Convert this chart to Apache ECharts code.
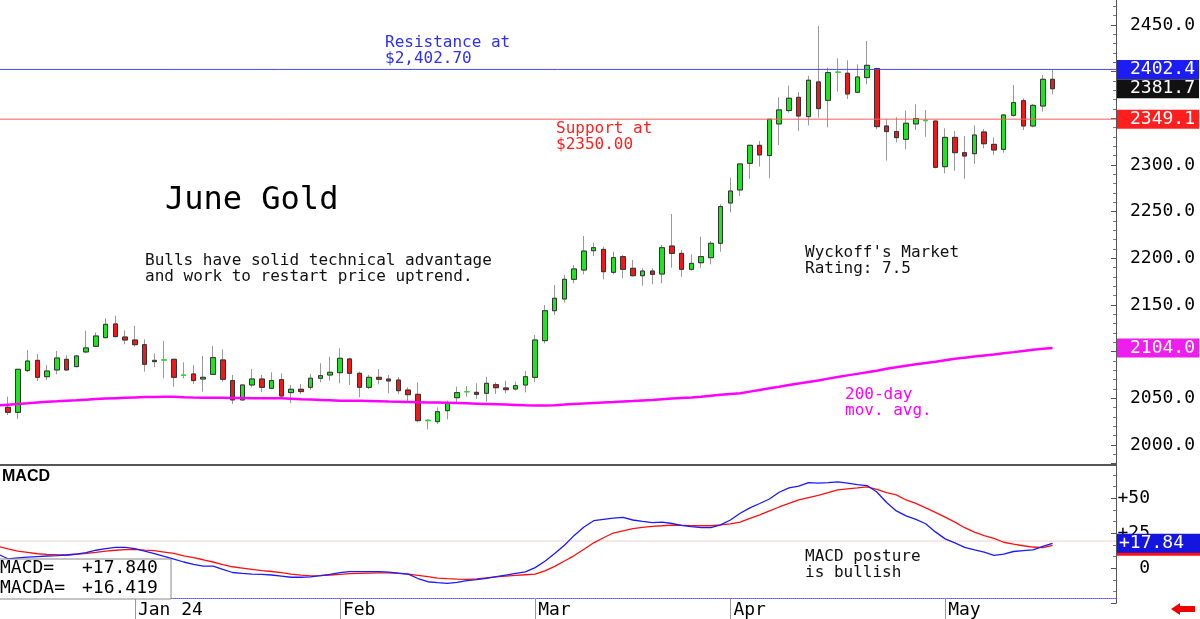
<!DOCTYPE html>
<html>
<head>
<meta charset="utf-8">
<title>June Gold</title>
<script src="https://cdn.jsdelivr.net/npm/echarts@6.0.0/dist/echarts.min.js"></script>
<style>
html, body { margin: 0; padding: 0; background: #fff; }
#chart { width: 1200px; height: 619px; }
</style>
</head>
<body>
<div id="chart"></div>
<script>
// trading days, first one is only the cut off left edge
var dates = ['2023-12-11',
  '2023-12-12','2023-12-13','2023-12-14','2023-12-15','2023-12-18','2023-12-19','2023-12-20','2023-12-21','2023-12-22','2023-12-26','2023-12-27','2023-12-28','2023-12-29',
  '2024-01-02','2024-01-03','2024-01-04','2024-01-05','2024-01-08','2024-01-09','2024-01-10','2024-01-11','2024-01-12','2024-01-16','2024-01-17','2024-01-18','2024-01-19','2024-01-22','2024-01-23','2024-01-24','2024-01-25','2024-01-26','2024-01-29','2024-01-30','2024-01-31',
  '2024-02-01','2024-02-02','2024-02-05','2024-02-06','2024-02-07','2024-02-08','2024-02-09','2024-02-12','2024-02-13','2024-02-14','2024-02-15','2024-02-16','2024-02-20','2024-02-21','2024-02-22','2024-02-23','2024-02-26','2024-02-27','2024-02-28','2024-02-29',
  '2024-03-01','2024-03-04','2024-03-05','2024-03-06','2024-03-07','2024-03-08','2024-03-11','2024-03-12','2024-03-13','2024-03-14','2024-03-15','2024-03-18','2024-03-19','2024-03-20','2024-03-21','2024-03-22','2024-03-25','2024-03-26','2024-03-27','2024-03-28',
  '2024-04-01','2024-04-02','2024-04-03','2024-04-04','2024-04-05','2024-04-08','2024-04-09','2024-04-10','2024-04-11','2024-04-12','2024-04-15','2024-04-16','2024-04-17','2024-04-18','2024-04-19','2024-04-22','2024-04-23','2024-04-24','2024-04-25','2024-04-26','2024-04-29','2024-04-30',
  '2024-05-01','2024-05-02','2024-05-03','2024-05-06','2024-05-07','2024-05-08','2024-05-09','2024-05-10','2024-05-13','2024-05-14','2024-05-15','2024-05-16'];
var padDays = ['p1','p2','p3','p4','p5','p6'];

var tickDates = ['2024-01-02','2024-02-01','2024-03-01','2024-04-01','2024-05-01'];
var tickLabels = ['Jan 24','Feb','Mar','Apr','May'];

// OHLC from 2023-12-12 on
var opens = [2040.4,2035.0,2079.7,2090.7,2073.2,2080.4,2091.8,2084.0,2099.7,2105.7,2115.0,2129.7,2115.7,
  2112.5,2107.5,2089.3,2091.1,2091.8,2075.0,2076.1,2070.7,2075.7,2091.1,2069.0,2048.3,2064.3,2070.7,2060.7,2070.0,2056.1,2059.7,2061.8,2071.5,2075.0,
  2077.5,2092.2,2076.8,2061.8,2072.5,2070.7,2069.6,2058.9,2054.3,2026.5,2025.0,2036.8,2050.7,2057.1,2056.4,2055.4,2064.6,2061.1,2060.0,2064.3,
  2072.5,2111.8,2143.9,2156.4,2177.5,2187.5,2208.2,2209.6,2185.0,2201.8,2189.3,2181.4,2186.4,2183.2,2213.2,2205.3,2188.2,2195.3,2200.7,2216.1,
  2259.3,2273.3,2301.8,2321.1,2310.1,2344.0,2358.3,2372.5,2351.8,2389.0,2369.3,2399.4,2398.3,2377.9,2393.6,2403.3,2341.8,2335.8,2327.5,2344.0,2348.0,2347.1,
  2298.2,2329.6,2313.2,2312.1,2335.4,2322.1,2316.8,2353.2,2368.9,2341.8,2363.2,2391.8];
var closes = [2035.0,2081.1,2090.0,2072.5,2079.3,2093.2,2080.4,2095.4,2104.0,2116.8,2129.3,2116.1,2112.5,
  2107.5,2086.5,2090.7,2091.1,2072.5,2074.5,2069.0,2072.5,2093.6,2070.4,2048.3,2064.3,2070.7,2061.8,2069.0,2052.5,2059.7,2057.2,2071.5,2074.3,2077.9,
  2092.9,2076.8,2061.8,2072.5,2070.4,2068.6,2058.2,2053.9,2026.1,2026.0,2035.7,2045.4,2056.1,2057.1,2054.3,2066.1,2061.4,2059.3,2063.6,2073.2,
  2112.5,2143.9,2157.2,2177.5,2188.6,2207.8,2211.4,2185.7,2200.7,2188.2,2181.4,2186.4,2182.8,2211.4,2205.3,2188.2,2194.6,2201.8,2216.1,2255.4,
  2272.1,2301.1,2321.1,2310.8,2349.0,2359.0,2371.5,2352.5,2390.8,2360.4,2399.0,2399.4,2376.1,2394.3,2406.8,2341.1,2335.8,2329.3,2344.7,2349.7,2347.5,2297.5,
  2329.6,2313.2,2309.6,2332.1,2322.8,2316.1,2353.6,2366.8,2341.8,2363.9,2391.8,2381.7];
var lows = [2032.1,2027.9,2077.9,2068.6,2069.7,2075.7,2079.7,2083.3,2098.2,2105.4,2114.3,2115.4,2107.9,
  2105.4,2078.6,2083.3,2071.5,2062.5,2071.5,2065.4,2057.2,2075.0,2067.9,2044.0,2047.5,2061.8,2056.5,2060.0,2051.1,2044.7,2054.7,2059.0,2067.2,2069.0,
  2066.1,2064.3,2051.1,2060.0,2065.0,2055.4,2054.6,2046.4,2024.3,2016.8,2022.5,2027.5,2044.6,2051.8,2049.3,2046.4,2054.6,2055.4,2058.2,2056.4,
  2067.1,2108.9,2139.3,2152.5,2173.2,2182.8,2202.5,2177.5,2182.8,2178.6,2180.3,2170.7,2172.1,2173.2,2190.0,2180.3,2186.8,2190.0,2193.5,2207.1,
  2249.2,2266.8,2285.0,2298.3,2285.8,2321.5,2356.1,2336.5,2342.5,2350.7,2340.4,2378.6,2370.8,2376.8,2386.5,2338.3,2304.7,2324.3,2316.8,2337.5,2330.3,2296.4,
  2291.1,2293.9,2285.3,2301.1,2317.9,2310.7,2313.2,2351.8,2337.5,2340.3,2357.1,2375.7];
var highs = [2051.8,2081.5,2101.8,2097.5,2085.7,2100.7,2096.1,2096.5,2122.5,2120.4,2135.7,2138.6,2122.9,
  2127.5,2113.2,2098.2,2111.5,2092.5,2088.6,2085.7,2095.4,2106.1,2102.5,2075.0,2064.5,2081.5,2075.0,2077.9,2076.8,2064.3,2065.4,2076.1,2087.5,2094.7,
  2103.6,2093.6,2078.6,2075.0,2081.4,2075.0,2072.5,2061.8,2067.1,2027.8,2040.3,2047.5,2062.5,2063.2,2066.1,2073.2,2067.1,2068.9,2067.9,2079.3,
  2117.9,2150.0,2171.4,2182.1,2192.8,2223.9,2216.8,2212.5,2207.1,2203.6,2198.2,2189.3,2189.3,2214.3,2247.5,2208.9,2204.3,2223.2,2218.6,2257.8,
  2286.3,2301.5,2321.5,2325.7,2349.3,2372.5,2385.0,2378.3,2395.4,2449.0,2404.3,2414.3,2412.2,2407.9,2432.9,2404.3,2349.3,2351.1,2358.3,2365.0,2358.9,2347.5,
  2339.3,2336.4,2331.1,2342.5,2338.6,2329.6,2354.6,2385.7,2371.4,2365.4,2396.4,2401.8];

// 200-day moving average, from 2023-12-11
var ma200 = [2042.4,
  2043.2,2044.0,2044.6,2045.6,2046.3,2046.8,2047.5,2048.0,2048.6,2049.2,2049.8,2050.2,2050.6,
  2051.0,2051.3,2051.5,2051.7,2051.8,2051.1,2050.8,2050.7,2050.6,2050.5,2050.4,2050.3,2050.2,2050.1,2050.0,2050.0,2049.6,2049.1,2048.7,2048.3,2047.9,
  2047.5,2047.4,2047.3,2047.1,2046.9,2046.6,2046.4,2046.1,2045.8,2045.5,2045.4,2045.2,2044.9,2044.6,2044.3,2044.0,2043.7,2043.3,2042.9,2042.5,
  2042.3,2042.3,2042.7,2043.3,2044.0,2044.5,2045.0,2045.5,2046.0,2046.6,2047.1,2047.7,2048.3,2049.0,2049.7,2050.3,2050.9,2051.8,2052.8,2053.8,
  2054.7,2055.4,2057.2,2059.0,2060.7,2062.4,2064.2,2065.9,2067.6,2069.2,2071.1,2072.9,2074.6,2076.2,2077.9,2079.6,2081.6,2083.3,2084.9,2086.4,2087.8,2089.1,
  2090.8,2092.3,2093.6,2094.8,2096.0,2097.0,2098.3,2099.5,2100.8,2102.0,2103.0,2104.0];

// MACD (blue) and MACDA (red), from 2023-12-11
var macdLine = [10.0,
  6.8,7.5,8.0,8.4,8.8,9.1,9.5,10.2,11.2,12.9,14.1,14.9,15.0,
  14.0,12.2,10.5,8.6,6.5,4.5,2.8,1.6,1.6,-0.8,-3.0,-3.6,-4.1,-4.4,-4.8,-5.6,-6.4,-6.4,-6.1,-5.3,-4.4,
  -3.1,-2.4,-2.4,-2.4,-2.4,-2.7,-3.5,-4.2,-7.3,-9.6,-10.2,-10.7,-10.0,-8.8,-8.1,-7.2,-6.0,-4.8,-3.6,-2.6,
  0.5,5.0,10.5,16.5,23.5,29.5,34.0,35.0,35.8,36.4,34.5,33.5,32.6,33.0,32.0,30.6,29.7,29.0,29.0,31.0,
  34.5,39.3,43.2,46.3,49.5,54.3,57.5,58.7,61.2,60.8,61.2,61.8,60.8,59.8,59.1,54.5,47.0,41.0,37.5,35.0,31.8,26.0,
  21.0,18.2,15.0,13.2,11.5,9.3,10.2,12.0,12.6,13.2,15.6,17.84];
var signalLine = [15.6,
  13.8,12.2,11.3,10.4,10.0,9.7,9.5,10.0,10.6,11.4,12.3,12.9,13.4,
  13.5,13.0,12.6,11.6,10.6,8.9,7.6,6.1,4.5,2.7,1.1,0.2,-0.7,-1.6,-2.3,-3.1,-4.1,-4.9,-5.4,-5.2,-4.8,
  -4.3,-3.8,-3.6,-3.4,-3.3,-3.2,-3.6,-4.2,-5.0,-5.9,-7.0,-7.4,-7.7,-7.9,-7.5,-6.8,-6.1,-5.6,-5.1,-4.6,
  -4.1,-1.8,1.4,5.2,9.1,13.6,18.2,21.8,25.2,26.8,28.3,29.2,30.0,30.4,30.9,30.7,30.4,30.4,30.4,31.0,
  31.8,33.0,35.7,38.1,41.0,43.8,46.4,48.8,50.5,52.1,54.0,56.0,56.8,57.4,58.2,56.3,54.0,52.4,48.8,46.4,43.1,40.0,
  36.5,33.0,29.0,25.8,23.3,21.3,18.6,17.2,16.1,15.2,14.7,16.419];

var resistanceLevel = 2402.4;
var supportLevel = 2349.1;
var macdRef = 19.5;

var upColor = '#1ee61e';
var downColor = '#f01818';
var mono = 'DejaVu Sans Mono';
var clear = 'rgba(255,255,255,0)';

var cats = dates.concat(padDays);
var lastClose = closes[closes.length - 1];
var lastMa = ma200[ma200.length - 1];
var lastMacd = macdLine[macdLine.length - 1];
var lastSignal = signalLine[signalLine.length - 1];

var empty = ['-', '-', '-', '-'];
var wickData = [empty];
var bodyData = [empty];
for (var i = 0; i < opens.length; i++) {
    var o = opens[i], c = closes[i];
    wickData.push([o, c, lows[i], highs[i]]);
    var item = { value: [o, c, Math.min(o, c), Math.max(o, c)] };
    // dojis show as a coloured dash
    if (Math.abs(o - c) < 0.6) {
        item.itemStyle = { borderColor: upColor, borderColor0: downColor };
    }
    bodyData.push(item);
}

function isTick(idx, val) { return tickDates.indexOf(val) >= 0; }

// full width horizontal rule, drawn on a hidden 0..1 x axis
function rule(name, xIdx, yIdx, value, color, type) {
    return {
        name: name, type: 'line', xAxisIndex: xIdx, yAxisIndex: yIdx,
        data: [[0, value], [1, value]], showSymbol: false, silent: true,
        lineStyle: { color: color, width: 1, type: type }
    };
}

// price tag on the right scale (markLine with an invisible line)
function tag(name, pane, value, bg, text, pad) {
    var label = {
        show: true, position: 'end', distance: 1,
        formatter: text,
        color: '#fff', backgroundColor: bg,
        fontFamily: mono, fontSize: 18, lineHeight: 19,
        padding: pad
    };
    var ls = { color: clear, width: 1 };
    return {
        name: name, type: 'line', xAxisIndex: pane, yAxisIndex: pane, data: [],
        markLine: {
            silent: true, symbol: 'none', animation: false,
            lineStyle: ls, label: label,
            data: [{ yAxis: value, lineStyle: ls, label: label }]
        }
    };
}

var chart = echarts.init(document.getElementById('chart'), null, { renderer: 'canvas' });

var option = {
    animation: false,
    backgroundColor: '#fff',
    grid: [
        { left: -6.64, width: 1122.64, top: -21.67, height: 513.33, outerBoundsMode: 'none' },
        { left: -6.64, width: 1122.64, top: 463.3, height: 140, outerBoundsMode: 'none' }
    ],
    xAxis: [
        { gridIndex: 0, type: 'category', data: cats, show: false },
        {
            gridIndex: 1, type: 'category', data: cats, position: 'bottom', offset: -5.3, z: 3,
            axisLine: { onZero: false, lineStyle: { color: '#5a5aff', type: 'dotted', width: 1 } },
            axisTick: { show: true, interval: isTick, alignWithLabel: true, length: 21, lineStyle: { color: '#999' } },
            axisLabel: {
                interval: isTick, align: 'left', margin: 3, padding: [0, 0, 0, 3],
                fontFamily: mono, fontSize: 18, color: '#000',
                formatter: function (v) { return tickLabels[tickDates.indexOf(v)]; }
            }
        },
        {
            gridIndex: 1, type: 'category', data: cats, position: 'top', offset: -1.2,
            axisLine: { onZero: false, lineStyle: { color: '#555', width: 2 } },
            axisTick: { show: false }, axisLabel: { show: false }
        },
        { gridIndex: 0, type: 'value', min: 0, max: 1, show: false },
        { gridIndex: 1, type: 'value', min: 0, max: 1, show: false }
    ],
    yAxis: [
        {
            gridIndex: 0, type: 'value', position: 'right', min: 1950, max: 2500, interval: 50,
            splitLine: { show: false },
            axisLine: { show: true, onZero: false, lineStyle: { color: '#555' } },
            axisTick: { show: true, inside: true, length: 5, lineStyle: { color: '#555' } },
            minorTick: { show: true, splitNumber: 5, length: 3, lineStyle: { color: '#777' } },
            axisLabel: {
                margin: 14, fontFamily: mono, fontSize: 18, color: '#000',
                formatter: function (v) { return (v < 2000 || v > 2450) ? '' : v.toFixed(1); }
            }
        },
        {
            gridIndex: 1, type: 'value', position: 'right', min: -25, max: 75, interval: 25, z: 3,
            splitLine: { show: false },
            axisLine: { show: true, onZero: false, lineStyle: { color: '#555' } },
            axisTick: { show: true, inside: true, length: 5, lineStyle: { color: '#555' } },
            minorTick: { show: true, splitNumber: 3, length: 3, lineStyle: { color: '#777' } },
            axisLabel: {
                margin: 34, align: 'right', fontFamily: mono, fontSize: 18, color: '#000',
                formatter: function (v) {
                    if (v === 0) return '0';
                    return (v > 0 && v < 75) ? '+' + v : '';
                }
            }
        }
    ],
    series: [
        rule('support', 3, 0, supportLevel, '#ff5c5c', 'solid'),
        rule('resistance', 3, 0, resistanceLevel, '#4848f0', 'solid'),
        tag('supportTag', 0, supportLevel, '#ff1f1f', supportLevel.toFixed(1), [0, 4, 0, 13]),
        tag('resistanceTag', 0, resistanceLevel, '#1c1cf5', resistanceLevel.toFixed(1), [0, 4, 0, 13]),
        tag('lastTag', 0, lastClose, '#111', lastClose.toFixed(1), [0, 4, 0, 13]),
        tag('maTag', 0, lastMa, '#ee1fee', lastMa.toFixed(1), [0, 4, 0, 13]),
        {
            name: 'wicks', type: 'candlestick', xAxisIndex: 0, yAxisIndex: 0,
            data: wickData, barWidth: 5,
            itemStyle: { color: upColor, color0: downColor, borderColor: '#999', borderColor0: '#999', borderWidth: 1 }
        },
        {
            name: 'bodies', type: 'candlestick', xAxisIndex: 0, yAxisIndex: 0,
            data: bodyData, barWidth: 5,
            itemStyle: { color: upColor, color0: downColor, borderColor: '#333', borderColor0: '#333', borderWidth: 1 }
        },
        {
            name: '200-day', type: 'line', xAxisIndex: 0, yAxisIndex: 0,
            data: ma200, showSymbol: false,
            lineStyle: { color: '#ff00ff', width: 2.5 }
        },
        rule('macdRef', 4, 1, macdRef, '#ff8c8c', 'dotted'),
        tag('macdaTag', 1, lastSignal, '#ff1010', '+' + lastSignal.toFixed(2), [1, 16, 1, 2]),
        tag('macdTag', 1, lastMacd, '#1515e0', '+' + lastMacd.toFixed(2), [0, 16, 0, 2]),
        {
            name: 'MACDA', type: 'line', xAxisIndex: 1, yAxisIndex: 1,
            data: signalLine, showSymbol: false,
            lineStyle: { color: '#ff1010', width: 1.3 }
        },
        {
            name: 'MACD', type: 'line', xAxisIndex: 1, yAxisIndex: 1,
            data: macdLine, showSymbol: false,
            lineStyle: { color: '#1a1aff', width: 1.3 }
        }
    ],
    graphic: [
        // hides the price scale ticks that run into the MACD pane
        { type: 'rect', z: 1, silent: true, shape: { x: 1100, y: 466, width: 16.5, height: 131 }, style: { fill: '#fff' } },
        { type: 'text', x: 385, y: 43, style: { text: 'Resistance at', fill: '#2f2ff0', font: '16px "DejaVu Sans Mono"', verticalAlign: 'middle' } },
        { type: 'text', x: 385, y: 59, style: { text: '$2,402.70', fill: '#2f2ff0', font: '16px "DejaVu Sans Mono"', verticalAlign: 'middle' } },
        { type: 'text', x: 556, y: 129, style: { text: 'Support at', fill: '#ff2020', font: '16px "DejaVu Sans Mono"', verticalAlign: 'middle' } },
        { type: 'text', x: 556, y: 145, style: { text: '$2350.00', fill: '#ff2020', font: '16px "DejaVu Sans Mono"', verticalAlign: 'middle' } },
        { type: 'text', x: 165, y: 201, style: { text: 'June Gold', fill: '#000', font: '32px "DejaVu Sans Mono"', verticalAlign: 'middle' } },
        { type: 'text', x: 145, y: 261, style: { text: 'Bulls have solid technical advantage', fill: '#111', font: '16px "DejaVu Sans Mono"', verticalAlign: 'middle' } },
        { type: 'text', x: 145, y: 277, style: { text: 'and work to restart price uptrend.', fill: '#111', font: '16px "DejaVu Sans Mono"', verticalAlign: 'middle' } },
        { type: 'text', x: 805, y: 253, style: { text: "Wyckoff's Market", fill: '#111', font: '16px "DejaVu Sans Mono"', verticalAlign: 'middle' } },
        { type: 'text', x: 805, y: 269, style: { text: 'Rating: 7.5', fill: '#111', font: '16px "DejaVu Sans Mono"', verticalAlign: 'middle' } },
        { type: 'text', x: 845, y: 395, style: { text: '200-day', fill: '#ff00ff', font: '16px "DejaVu Sans Mono"', verticalAlign: 'middle' } },
        { type: 'text', x: 845, y: 411, style: { text: 'mov. avg.', fill: '#ff00ff', font: '16px "DejaVu Sans Mono"', verticalAlign: 'middle' } },
        { type: 'text', x: 2, y: 477, style: { text: 'MACD', fill: '#000', font: 'bold 16px "Liberation Sans"', verticalAlign: 'middle' } },
        { type: 'text', x: 805, y: 557, style: { text: 'MACD posture', fill: '#111', font: '16px "DejaVu Sans Mono"', verticalAlign: 'middle' } },
        { type: 'text', x: 805, y: 573, style: { text: 'is bullish', fill: '#111', font: '16px "DejaVu Sans Mono"', verticalAlign: 'middle' } },
        // value box, bottom left of the MACD pane
        { type: 'rect', z: 10, shape: { x: -2, y: 559, width: 173, height: 40 }, style: { fill: '#fff', stroke: '#888', lineWidth: 1 } },
        { type: 'text', z: 11, x: 0, y: 568, style: { text: 'MACD=', fill: '#000', font: '18px "DejaVu Sans Mono"', verticalAlign: 'middle' } },
        { type: 'text', z: 11, x: 82, y: 568, style: { text: '+' + lastMacd.toFixed(3), fill: '#000', font: '18px "DejaVu Sans Mono"', verticalAlign: 'middle' } },
        { type: 'text', z: 11, x: 0, y: 588, style: { text: 'MACDA=', fill: '#000', font: '18px "DejaVu Sans Mono"', verticalAlign: 'middle' } },
        { type: 'text', z: 11, x: 82, y: 588, style: { text: '+' + lastSignal.toFixed(3), fill: '#000', font: '18px "DejaVu Sans Mono"', verticalAlign: 'middle' } },
        // little red arrow, bottom right
        { type: 'polygon', shape: { points: [[1171, 609], [1180, 603], [1180, 606], [1195, 606], [1195, 612], [1180, 612], [1180, 615]] }, style: { fill: '#ee0000' } }
    ]
};

chart.setOption(option);
</script>
</body>
</html>
